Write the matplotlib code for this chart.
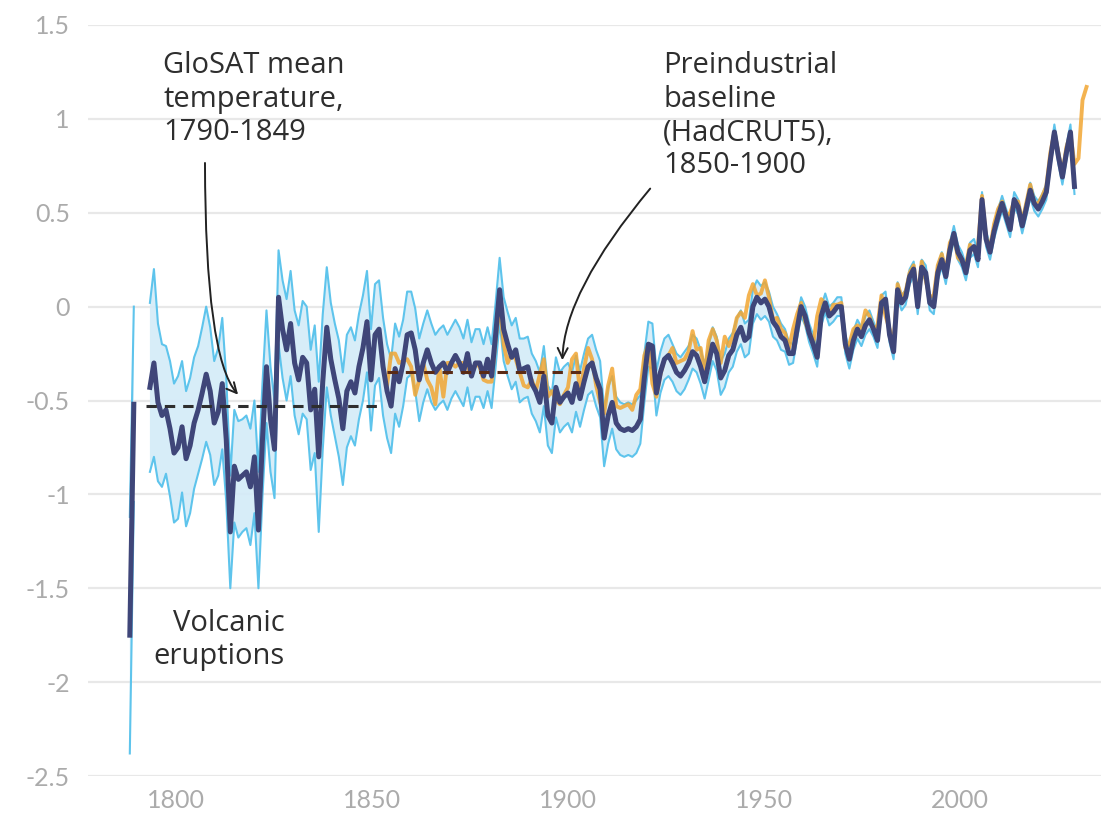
import matplotlib
matplotlib.use("Agg")
import matplotlib.pyplot as plt
from matplotlib.patches import FancyArrowPatch
import numpy as np

INK = "#2e2e2e"; TICK = "#ababab"; GRID = "#e8e8e8"; ZERO = "#a8a8a8"
NAVY = "#3f4679"; CYAN = "#5ec4ec"; FILL = "#d3ebf8"; ORANGE = "#f2a632"
BROWN = "#5a2b16"
plt.rcParams["font.family"] = ["Lato", "DejaVu Sans"]

# ---- data (anomaly, degC) -------------------------------------------------
glosat_start = 1786
glosat_mean = [
    -1.75, -0.52, np.nan, np.nan, np.nan,                                  # 1786-1790
    -0.43, -0.30, -0.51, -0.58, -0.55, -0.65, -0.78, -0.75, -0.64, -0.81,  # 1791-
    -0.74, -0.62, -0.55, -0.46, -0.36, -0.45, -0.62, -0.56, -0.41, -0.71,  # 1801-
    -1.20, -0.85, -0.92, -0.90, -0.88, -0.96, -0.80, -1.19, -0.71, -0.32,  # 1811-
    -0.60, -0.76, 0.05, -0.12, -0.23, -0.09, -0.30, -0.39, -0.27, -0.30,   # 1821-
    -0.55, -0.44, -0.80, -0.40, -0.11, -0.28, -0.39, -0.49, -0.65, -0.45,  # 1831-
    -0.40, -0.46, -0.32, -0.22, -0.08, -0.39, -0.15, -0.12, -0.32, -0.45,  # 1841-
    -0.53, -0.33, -0.40, -0.30, -0.15, -0.14, -0.23, -0.39, -0.30, -0.23,  # 1851-
    -0.30, -0.35, -0.32, -0.30, -0.35, -0.30, -0.26, -0.30, -0.35, -0.25,  # 1861-
    -0.37, -0.30, -0.30, -0.37, -0.28, -0.37, -0.15, 0.09, -0.12, -0.20,   # 1871-
    -0.27, -0.23, -0.34, -0.33, -0.32, -0.41, -0.45, -0.51, -0.37, -0.58,  # 1881-
    -0.62, -0.43, -0.51, -0.48, -0.46, -0.51, -0.41, -0.49, -0.40, -0.32,  # 1891-
    -0.30, -0.38, -0.44, -0.70, -0.58, -0.51, -0.62, -0.65, -0.66, -0.65,  # 1901-
    -0.66, -0.64, -0.60, -0.38, -0.20, -0.21, -0.46, -0.35, -0.28, -0.26,  # 1911-
    -0.30, -0.35, -0.37, -0.34, -0.30, -0.24, -0.26, -0.32, -0.40, -0.30,  # 1921-
    -0.20, -0.25, -0.38, -0.34, -0.26, -0.23, -0.15, -0.11, -0.18, -0.16,  # 1931-
    0.00, 0.05, 0.02, 0.04, 0.00, -0.08, -0.11, -0.16, -0.18, -0.25,       # 1941-
    -0.25, -0.12, 0.00, -0.05, -0.14, -0.20, -0.27, -0.05, 0.02, -0.05,    # 1951-
    -0.03, 0.00, 0.00, -0.20, -0.28, -0.18, -0.12, -0.16, -0.10, -0.07,    # 1961-
    -0.12, -0.18, 0.02, 0.04, -0.15, -0.24, 0.09, 0.02, 0.05, 0.16,        # 1971-
    0.20, 0.00, 0.21, 0.18, 0.02, 0.00, 0.18, 0.25, 0.16, 0.30,            # 1981-
    0.39, 0.29, 0.25, 0.18, 0.30, 0.32, 0.25, 0.57, 0.36, 0.29,            # 1991-
    0.40, 0.48, 0.55, 0.48, 0.41, 0.57, 0.53, 0.43, 0.52, 0.62,            # 2001-
    0.55, 0.52, 0.56, 0.61, 0.78, 0.93, 0.80, 0.69, 0.82, 0.93, 0.64,      # 2011-2021
]
# half-width of the GloSAT uncertainty band
glosat_spread = [
    0.63, 0.52, np.nan, np.nan, np.nan,
    0.45, 0.50, 0.42, 0.38, 0.34, 0.36, 0.37, 0.38, 0.35, 0.36,
    0.36, 0.35, 0.34, 0.35, 0.36, 0.34, 0.33, 0.34, 0.35, 0.33,
    0.30, 0.30, 0.31, 0.30, 0.30, 0.31, 0.30, 0.31, 0.30, 0.30,
    0.28, 0.26, 0.25, 0.26, 0.27, 0.28, 0.28, 0.29, 0.30, 0.30,
    0.32, 0.34, 0.40, 0.36, 0.32, 0.30, 0.30, 0.31, 0.30, 0.30,
    0.29, 0.28, 0.28, 0.28, 0.27, 0.27, 0.27, 0.26, 0.26, 0.25,
    0.25, 0.24, 0.24, 0.23, 0.23, 0.22, 0.22, 0.22, 0.21, 0.21,
    0.21, 0.20, 0.20, 0.20, 0.20, 0.19, 0.19, 0.19, 0.18, 0.18,
    0.18, 0.18, 0.18, 0.17, 0.17, 0.17, 0.17, 0.17, 0.17, 0.17,
    0.17, 0.17, 0.17, 0.16, 0.16, 0.16, 0.16, 0.16, 0.16, 0.16,
    0.16, 0.16, 0.16, 0.16, 0.16, 0.16, 0.15, 0.15, 0.15, 0.15,
    0.15, 0.15, 0.15, 0.15, 0.15, 0.14, 0.14, 0.14, 0.14, 0.14,
    0.14, 0.14, 0.13, 0.13, 0.12, 0.12, 0.12, 0.11, 0.11, 0.11,
    0.10, 0.10, 0.10, 0.10, 0.09, 0.09, 0.09, 0.09, 0.09, 0.09,
    0.09, 0.09, 0.09, 0.09, 0.09, 0.09, 0.09, 0.09, 0.09, 0.09,
    0.09, 0.09, 0.09, 0.09, 0.08, 0.08, 0.07, 0.07, 0.06, 0.06,
    0.05, 0.05, 0.05, 0.05, 0.05, 0.05, 0.05, 0.05, 0.05, 0.05,
    0.05, 0.05, 0.05, 0.05, 0.05, 0.05, 0.05, 0.05, 0.05, 0.05,
    0.04, 0.04, 0.04, 0.04, 0.04, 0.04, 0.04, 0.04, 0.04, 0.04,
    0.04, 0.04, 0.04, 0.04, 0.04, 0.04, 0.04, 0.04, 0.04, 0.04,
    0.04, 0.04, 0.04, 0.04, 0.04, 0.04, 0.04, 0.04, 0.04, 0.04,
    0.04, 0.04, 0.04, 0.04, 0.04, 0.04, 0.04, 0.04, 0.04, 0.04,
    0.04, 0.04, 0.04, 0.04, 0.04, 0.04, 0.04, 0.04, 0.04, 0.04, 0.04,
]
hadcrut_start = 1850
hadcrut_mean = [
    -0.42, -0.25, -0.25, -0.30, -0.29, -0.28, -0.32, -0.47, -0.39, -0.30,  # 1850-
    -0.39, -0.43, -0.52, -0.32, -0.48, -0.30, -0.30, -0.32, -0.30, -0.30,  # 1860-
    -0.32, -0.37, -0.30, -0.32, -0.39, -0.40, -0.40, -0.18, 0.02, -0.20,   # 1870-
    -0.30, -0.25, -0.28, -0.35, -0.42, -0.43, -0.39, -0.45, -0.36, -0.28,  # 1880-
    -0.48, -0.45, -0.50, -0.52, -0.47, -0.43, -0.28, -0.25, -0.46, -0.33,  # 1890-
    -0.22, -0.28, -0.42, -0.51, -0.57, -0.42, -0.33, -0.53, -0.54, -0.53,  # 1900-
    -0.52, -0.55, -0.47, -0.44, -0.26, -0.20, -0.41, -0.48, -0.36, -0.28,  # 1910-
    -0.26, -0.22, -0.30, -0.29, -0.28, -0.24, -0.13, -0.23, -0.22, -0.36,  # 1920-
    -0.18, -0.12, -0.18, -0.30, -0.16, -0.21, -0.16, -0.06, -0.03, -0.06,  # 1930-
    0.06, 0.12, 0.06, 0.07, 0.14, 0.05, -0.07, -0.06, -0.12, -0.14,        # 1940-
    -0.22, -0.12, -0.04, 0.02, -0.08, -0.14, -0.20, -0.05, 0.04, 0.01,     # 1950-
    -0.05, 0.01, 0.01, 0.02, -0.22, -0.20, -0.12, -0.10, -0.12, -0.02,     # 1960-
    -0.05, -0.12, -0.10, 0.06, -0.05, -0.12, -0.20, 0.12, 0.05, 0.08,      # 1970-
    0.18, 0.22, 0.04, 0.24, 0.14, 0.05, 0.06, 0.22, 0.28, 0.18,            # 1980-
    0.34, 0.38, 0.26, 0.24, 0.22, 0.33, 0.30, 0.32, 0.59, 0.37,            # 1990-
    0.31, 0.44, 0.52, 0.56, 0.48, 0.50, 0.56, 0.56, 0.45, 0.55,            # 2000-
    0.65, 0.55, 0.55, 0.59, 0.64, 0.82, 0.93, 0.82, 0.71, 0.85,            # 2010-
    0.92, 0.76, 0.79, 1.10, 1.17,                                          # 2020-2024
]
baseline_periods = [(1790, 1849), (1850, 1900)]
baseline_levels = [-0.53, -0.35]

y_ticks = [-2.5, -2, -1.5, -1, -0.5, 0, 0.5, 1, 1.5]
y_labels = ["-2.5", "-2", "-1.5", "-1", "-0.5", "0", "0.5", "1", "1.5"]
x_labels = ["1800", "1850", "1900", "1950", "2000"]
# the source graphic prints its year labels a few years left of the data grid
x_label_pos = [1797.5, 1846.3, 1895.0, 1943.8, 1992.5]

g_years = np.arange(glosat_start, glosat_start + len(glosat_mean))
g_mean = np.array(glosat_mean)
g_spread = np.array(glosat_spread)
h_years = np.arange(hadcrut_start, hadcrut_start + len(hadcrut_mean))

# ---- figure ------------------------------------------------------------------
W, H = 1101, 823
fig = plt.figure(figsize=(W / 100, H / 100), dpi=100)
ax = fig.add_axes([88 / W, 1 - 776 / H, 1 - 88 / W, (776 - 25) / H])
ax.set_xlim(1775.6, 2027.6)
ax.set_ylim(-2.5, 1.5)

for s in ax.spines.values():
    s.set_visible(False)
ax.set_yticks(y_ticks)
ax.set_yticklabels(y_labels)
ax.set_xticks(x_label_pos)
ax.set_xticklabels(x_labels)
ax.tick_params(length=0, labelsize=18, labelcolor=TICK)
ax.tick_params(axis="y", pad=13)
ax.tick_params(axis="x", pad=9)
ax.grid(axis="y", color=GRID, lw=1.6, zorder=0)
ax.axhline(0, color=ZERO, lw=1.1, zorder=1)

lo = g_mean - g_spread
hi = g_mean + g_spread
ax.fill_between(g_years, lo, hi, color=FILL, lw=0, alpha=0.9, zorder=2)
ax.plot(g_years, lo, color=CYAN, lw=1.5, zorder=3)
ax.plot(g_years, hi, color=CYAN, lw=1.5, zorder=3)
ax.plot(h_years, hadcrut_mean, color=ORANGE, lw=2.8, alpha=0.85, zorder=4,
        solid_joinstyle="round")
ax.plot(g_years, g_mean, color=NAVY, lw=3.6, zorder=5, solid_joinstyle="round")

for (a, b), lvl, c in zip(baseline_periods, baseline_levels, [INK, BROWN]):
    ax.plot([a, b], [lvl, lvl], color=c, lw=2.2, ls=(0, (3.4, 2.6)), zorder=6)

# ---- annotations -------------------------------------------------------------
txt = dict(fontsize=21, color=INK, linespacing=1.2, family=["Open Sans", "DejaVu Sans"])
ax.text(1794.3, 1.36, "GloSAT mean\ntemperature,\n1790-1849", ha="left", va="top", **txt)
ax.text(1918.7, 1.36, "Preindustrial\nbaseline\n(HadCRUT5),\n1850-1900", ha="left",
        va="top", **txt)
ax.text(1824.6, -1.61, "Volcanic\neruptions", ha="right", va="top", **txt)

ax.add_patch(FancyArrowPatch((1804.7, 0.78), (1813.4, -0.48),
             connectionstyle="angle3,angleA=-90,angleB=-45", arrowstyle="->",
             mutation_scale=18, color="#222222", lw=1.4, zorder=7))
ax.add_patch(FancyArrowPatch((1915.9, 0.64), (1893.6, -0.30),
             connectionstyle="angle3,angleA=-130,angleB=90", arrowstyle="->",
             mutation_scale=18, color="#222222", lw=1.4, zorder=7))

fig.savefig("out.png", dpi=100, facecolor="white")
